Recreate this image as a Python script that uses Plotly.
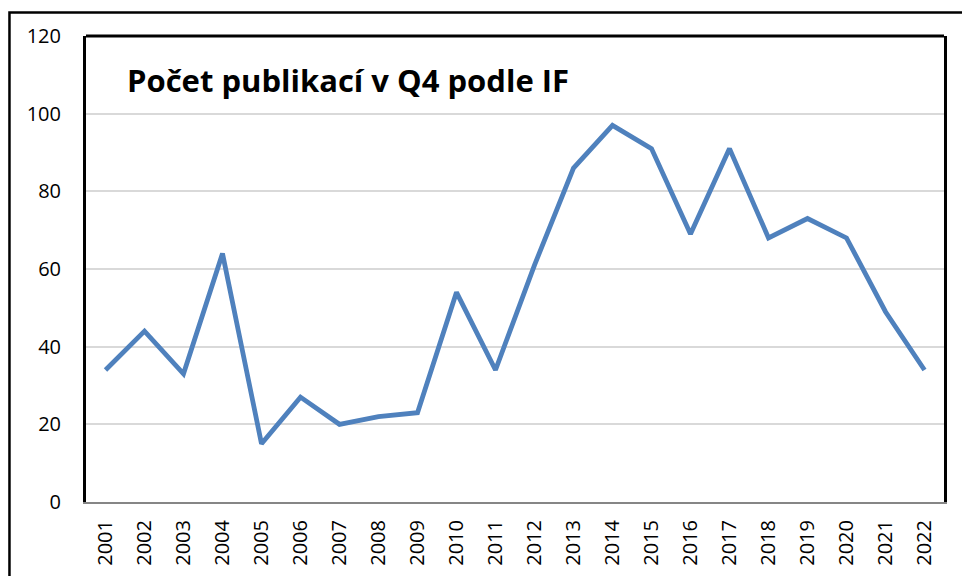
import plotly.graph_objects as go

years = [str(y) for y in range(2001, 2023)]
counts = [34, 44, 33, 64, 15, 27, 20, 22, 23, 54, 34, 61, 86, 97, 91, 69, 91, 68, 73, 68, 49, 34]
y_ticks = [0, 20, 40, 60, 80, 100, 120]

fig = go.Figure()

fig.add_trace(
    go.Scatter(
        x=years,
        y=counts,
        mode="lines",
        line=dict(color="#4F81BD", width=4.8),
        showlegend=False,
    )
)

fig.update_layout(
    width=962,
    height=576,
    margin=dict(l=86, r=18, t=36, b=74, autoexpand=False),
    paper_bgcolor="white",
    plot_bgcolor="white",
    font=dict(family="Open Sans, sans-serif", size=20, color="black"),
    xaxis=dict(
        type="category",
        range=[-0.5, len(years) - 0.5],
        tickangle=-90,
        showgrid=False,
        showline=True,
        linecolor="#868686",
        linewidth=2,
        ticks="",
        automargin=False,
        ticklabelstandoff=8,
    ),
    yaxis=dict(
        range=[0, 120],
        tickvals=y_ticks,
        showgrid=True,
        gridcolor="#D9D9D9",
        gridwidth=1.5,
        showline=True,
        linecolor="black",
        linewidth=3,
        mirror=True,
        zeroline=False,
        ticks="",
        automargin=False,
        ticklabelstandoff=18,
    ),
    shapes=[
        # top border of plot area
        dict(type="line", xref="paper", yref="paper", x0=0, x1=1, y0=1, y1=1,
             line=dict(color="black", width=3)),
        # outer chart frame
        dict(type="rect", xref="paper", yref="paper", x0=-0.0892, x1=1.05, y0=-0.3, y1=1.0504,
             line=dict(color="black", width=2.5)),
    ],
    annotations=[
        dict(
            text="<b>Počet publikací v Q4 podle IF</b>",
            xref="paper", yref="paper",
            x=0.046, y=0.906,
            xanchor="left", yanchor="middle",
            showarrow=False,
            font=dict(family="Open Sans, sans-serif", size=31, color="black"),
        )
    ],
)

# page body has a default 8px margin; drop it so the figure sits at the corner
fig.write_html(
    "out.html",
    config={"displayModeBar": False},
    post_script="document.body.style.margin='0';",
)
